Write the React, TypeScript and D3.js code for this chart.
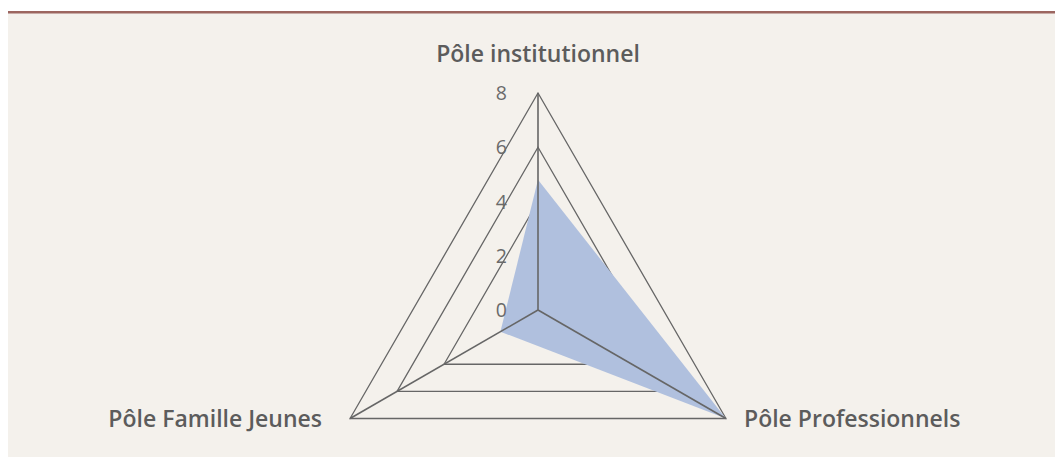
import React from "react";
import * as d3 from "d3";

const categories = ["Pôle institutionnel", "Pôle Professionnels", "Pôle Famille Jeunes"];
const values = [4.8, 8, 1.6];
const gridLevels = [4, 6, 8];
const tickLabels = [0, 2, 4, 6, 8];

const W = 1055;
const H = 457;
const cx = 538;
const cy = 310;
const R = 217;
const font = "'Open Sans', Roboto, sans-serif";

const App = () => {
  const r = d3.scaleLinear().domain([0, 8]).range([0, R]);
  const angle = d3
    .scalePoint<string>()
    .domain(categories)
    .range([0, (2 * Math.PI * 2) / 3]);

  const pt = (cat: string, v: number): [number, number] => {
    const a = (angle(cat) as number) - Math.PI / 2;
    return [cx + r(v) * Math.cos(a), cy + r(v) * Math.sin(a)];
  };

  const line = d3.line().curve(d3.curveLinearClosed);
  const fillPath = line(categories.map((c, i) => pt(c, values[i])));

  // label placement per axis
  const labelPos = [
    { x: cx, y: 62, anchor: "middle" },
    { x: 744, y: 427, anchor: "start" },
    { x: 322, y: 427, anchor: "end" },
  ];

  return (
    <div style={{ position: "fixed", left: 0, top: 0 }}>
      <svg width={W} height={H} style={{ display: "block" }}>
        <rect x={8} y={11} width={W - 8} height={H - 11} fill="#f4f1ec" />
        <rect x={8} y={11} width={W - 8} height={2.5} fill="#9c6660" />

        {gridLevels.map((lv) => (
          <path
            key={lv}
            d={line(categories.map((c) => pt(c, lv))) || ""}
            fill="none"
            stroke="#666"
            strokeWidth={1.3}
          />
        ))}

        <path d={fillPath || ""} fill="#b0c0de" />

        {categories.map((c) => {
          const [x, y] = pt(c, 8);
          return (
            <line key={c} x1={cx} y1={cy} x2={x} y2={y} stroke="#666" strokeWidth={1.6} />
          );
        })}

        {tickLabels.map((t) => (
          <text
            key={t}
            x={507}
            y={cy - r(t)}
            dy="0.36em"
            textAnchor="end"
            fontFamily={font}
            fontSize={19.5}
            fill="#6a6a6a"
          >
            {t}
          </text>
        ))}

        {categories.map((c, i) => (
          <text
            key={c}
            x={labelPos[i].x}
            y={labelPos[i].y}
            textAnchor={labelPos[i].anchor as any}
            fontFamily={font}
            fontWeight={600}
            fontSize={23}
            fill="#5c5c5c"
          >
            {c}
          </text>
        ))}
      </svg>
    </div>
  );
};

export default App;
